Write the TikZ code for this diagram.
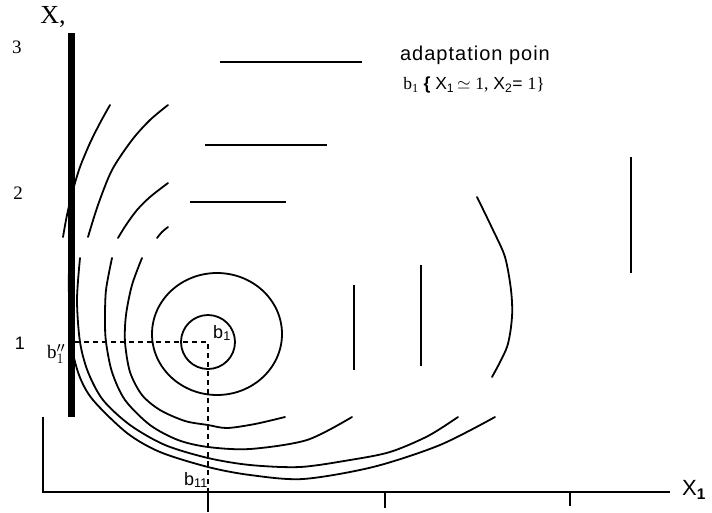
\documentclass[tikz,border=0pt]{standalone}
\usepackage{fontspec}
\setmainfont{Liberation Serif}
\setsansfont{Liberation Sans}
\usetikzlibrary{positioning}
\tikzset{
  contour/.style={line width=1.8pt, line cap=round},
  stroke/.style={line width=2pt},
  guide/.style={line width=1.5pt, dash pattern=on 5pt off 4pt},
  thickbar/.style={line width=7pt},
  axisline/.style={line width=1.8pt},
  lab/.style={inner sep=0pt, font=\sffamily\fontsize{18}{18}\selectfont},
  num/.style={inner sep=0pt, font=\rmfamily\fontsize{19}{19}\selectfont},
}

\begin{document}
\begin{tikzpicture}[x=1pt, y=-1pt]
  \useasboundingbox (0,0) rectangle (712,512);

  % level curves, upper pieces
  \draw[contour] plot[smooth] coordinates {(110,105) (100,123) (90,143) (80,167) (73,190) (67,215) (63,237)};
  \draw[contour] plot[smooth] coordinates {(168,105) (150,120) (132,140) (112,170) (98,205) (88,237)};
  \draw[contour] plot[smooth] coordinates {(168,183) (150,197) (137,210) (126,225) (118,238)};
  \draw[contour] plot[smooth] coordinates {(168,227) (162,232) (157,238)};

  % level curves, lower pieces
  \draw[contour] plot[smooth] coordinates {(69,258) (69,300) (71,342) (79,375) (93,400) (127,433) (160,452) (208,467) (250,475) (303,479) (373,467) (440,445) (495,417)};
  \draw[contour] plot[smooth] coordinates {(80,258) (77,300) (80,342) (88,372) (103,400) (130,425) (165,445) (208,458) (250,465) (300,467) (350,460) (390,452) (428,436) (458,417)};
  \draw[contour] plot[smooth] coordinates {(112,258) (106,290) (105,320) (106,342) (112,372) (125,400) (150,425) (178,440) (208,447) (250,449) (307,440) (352,417)};
  \draw[contour] plot[smooth] coordinates {(142,258) (132,285) (126,315) (125,342) (130,372) (142,395) (160,410) (185,421) (208,425) (227,428) (255,424) (285,417)};
  \draw[contour] plot[smooth] coordinates {(477,197) (493,230) (505,257) (511,290) (512,317) (507,347) (492,377)};

  % inner curves round the point
  \draw[contour] (217,334) ellipse [x radius=65pt, y radius=61pt];
  \draw[contour] (208,342) circle [radius=27pt];

  % loose strokes
  \draw[stroke] (220,62) -- (362,62);
  \draw[stroke] (205,145) -- (327,145);
  \draw[stroke] (190,202) -- (286,202);
  \draw[stroke] (354,285) -- (354,370);
  \draw[stroke] (421,265) -- (421,366);
  \draw[stroke] (631,157) -- (631,273);

  % constraint and axes
  \draw[thickbar] (71,33) -- (71,417);
  \draw[axisline] (43,417) -- (43,492) -- (670,492);
  \draw[axisline] (385,492) -- (385,508);
  \draw[axisline] (570,492) -- (570,506);
  \draw[axisline] (208,488) -- (208,512);
  \draw[guide] (75,342) -- (208,342) -- (208,488);

  % labels
  \node[num, font=\rmfamily\fontsize{26}{26}\selectfont] (xtwo) at (53,17) {X,};
  \node[num] (ythree) at (17,47) {3};
  \node[num] (ytwo) at (18,193) {2};
  \node[lab] (yone) at (20,343) {1};
  \node[num] (bstar) at (56,354) {b$^{\prime\prime}_{1}$};
  \node[lab] (bone) at (222,333) {b\textsubscript{1}};
  \node[lab] (bbot) at (196,480) {b\textsubscript{11}};
  \node[lab, font=\sffamily\fontsize{22}{22}\selectfont] (xone) at (694,490) {X\textsubscript{\bfseries 1}};
  \node[lab, font=\sffamily\fontsize{20}{20}\selectfont\addfontfeatures{LetterSpace=5}] (title) at (475,55) {adaptation poin};
  \node[lab, font=\sffamily\fontsize{17.5}{17.5}\selectfont] (point) at (474,85)
    {{\rmfamily b\textsubscript{1}} {\bfseries\{} X\textsubscript{1}\,$\simeq$ {\rmfamily 1,} X\textsubscript{2}= {\rmfamily 1\}}};
\end{tikzpicture}
\end{document}
